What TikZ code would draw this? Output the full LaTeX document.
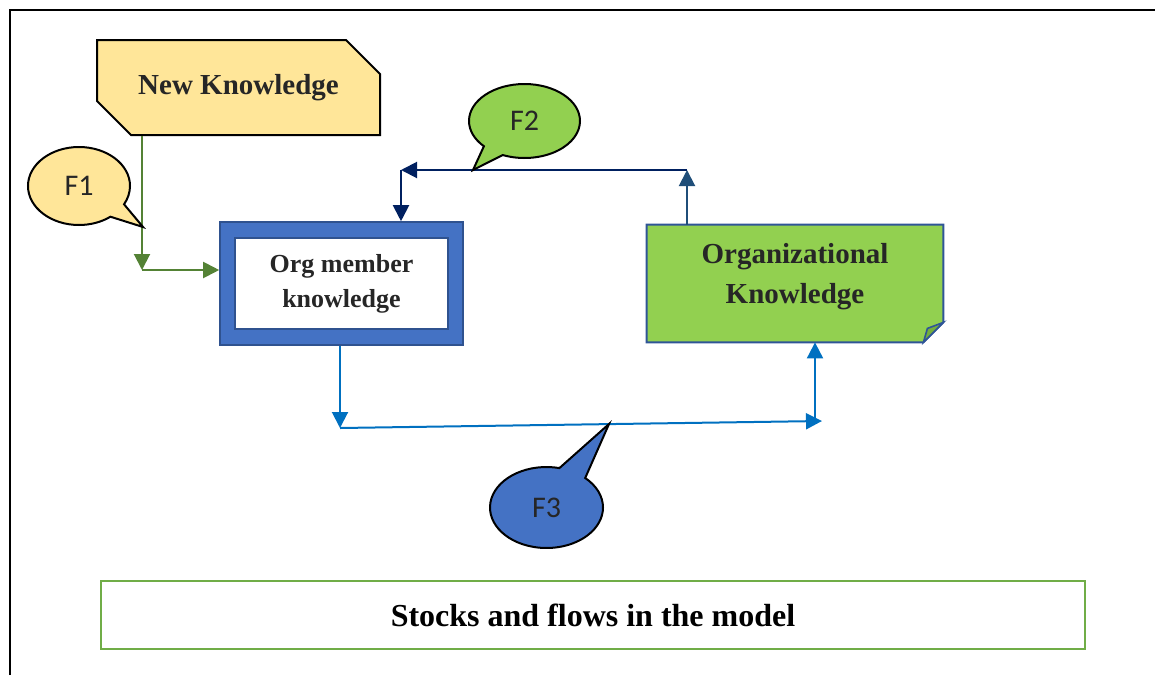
\documentclass[tikz,border=0pt]{standalone}
\usepackage{fontspec}
\setmainfont{Liberation Serif}
\newfontfamily\bubblefont{Carlito}
\usepackage{xcolor}
\usepackage{tikz}
\usetikzlibrary{shapes.misc, shapes.callouts, arrows.meta, positioning, backgrounds}
\definecolor{nkyellow}{HTML}{FFE699}
\definecolor{memblue}{HTML}{4472C4}
\definecolor{memedge}{HTML}{2F528F}
\definecolor{okgreen}{HTML}{92D050}
\definecolor{okfold}{HTML}{74AE3C}
\definecolor{okedge}{HTML}{2F5597}
\definecolor{fonegreen}{HTML}{548235}
\definecolor{ftwonavy}{HTML}{002060}
\definecolor{ftwoup}{HTML}{1F4E79}
\definecolor{fthreeblue}{HTML}{0070C0}
\definecolor{capgreen}{HTML}{70AD47}
\definecolor{labelgray}{HTML}{262626}
\tikzstyle{arrow}  = [line width=1pt, -{Triangle[length=8pt,width=8pt]}]
\tikzstyle{stock}  = [rectangle, text=labelgray, font=\bfseries\fontsize{14.5}{20}\selectfont]
\tikzstyle{bubble} = [ellipse callout, draw=black, line width=1pt, callout pointer arc=24,
                      text=labelgray, font=\bubblefont\fontsize{15}{17}\selectfont]
\tikzset{every node/.style={align=center}}

\begin{document}
\begin{tikzpicture}[x=0.5pt, y=-0.5pt]
    \useasboundingbox (0,0) rectangle (1155,675);
    \draw [line width=1pt] (10,675) -- (10,10) -- (1155,10);

    % flow corners
    \coordinate (f1c) at (142,270);
    \coordinate (f2r) at (687,170);
    \coordinate (f2l) at (401,170);
    \coordinate (f3l) at (340,428);
    \coordinate (f3r) at (822,421);
    \coordinate (f3u) at (815,421);
    \coordinate (f1tip) at (143,227);
    \coordinate (f2tip) at (473,170);
    \coordinate (f3tip) at (609,424);

    % stocks
    \node (nk) at (238.5,87.5) [stock, chamfered rectangle,
          chamfered rectangle corners={north east, south west},
          chamfered rectangle xsep=8.5pt, chamfered rectangle ysep=8.5pt,
          draw=black, line width=1pt, fill=nkyellow,
          minimum width=141.5pt, minimum height=47.5pt] {New Knowledge};
    \node (mem) at (341.5,283.5) [stock, draw=memedge, fill=memblue, line width=0.8pt,
          minimum width=121.5pt, minimum height=61.5pt] {};
    \node (memin) at (mem.center) [stock, draw=memedge, fill=white, line width=1pt,
          font=\bfseries\fontsize{13}{17.5}\selectfont,
          minimum width=106.5pt, minimum height=45.5pt] {Org member\\knowledge};
    \node (orgk) at (795,283.5) [stock, minimum width=148pt, minimum height=58.5pt] {};
    \node (orgklbl) at ([yshift=3.5pt]orgk.center) [stock] {Organizational\\Knowledge};
    \begin{scope}[on background layer]
        \draw [fill=okgreen, draw=okedge, line width=1pt]
              (orgk.north west) -- (orgk.north east) -- ([yshift=10pt]orgk.south east)
              -- ([xshift=-10pt]orgk.south east) -- (orgk.south west) -- cycle;
        \draw [fill=okfold, draw=okedge, line width=0.8pt]
              ([yshift=10pt]orgk.south east) -- ([xshift=-8pt,yshift=7pt]orgk.south east)
              -- ([xshift=-10pt]orgk.south east) -- cycle;
    \end{scope}

    % flows
    \draw [arrow, fonegreen] (nk.south -| f1c) -- (f1c);
    \draw [arrow, fonegreen] (f1c) -- (mem.west |- f1c);
    \draw [arrow, ftwoup] (orgk.north -| f2r) -- (f2r);
    \draw [arrow, ftwonavy] (f2r) -- (f2l);
    \draw [arrow, ftwonavy] (f2l) -- (mem.north -| f2l);
    \draw [arrow, fthreeblue] (mem.south -| f3l) -- (f3l);
    \draw [arrow, fthreeblue] (f3l) -- (f3r);
    \draw [arrow, fthreeblue] (f3u) -- (orgk.south -| f3u);

    % flow labels
    \node (fone) at (79,186) [bubble, fill=nkyellow, minimum width=51pt, minimum height=39pt,
          callout absolute pointer={(f1tip)}] {F1};
    \node (ftwo) at (524.5,121) [bubble, fill=okgreen, minimum width=55.5pt, minimum height=37pt,
          callout absolute pointer={(f2tip)}] {F2};
    \node (fthree) at (546.5,507.5) [bubble, fill=memblue, minimum width=56.5pt, minimum height=40.5pt,
          callout pointer arc=30, callout absolute pointer={(f3tip)}] {F3};

    % caption
    \node (cap) at (593,615) [draw=capgreen, line width=1pt, minimum width=492pt, minimum height=34pt,
          font=\bfseries\fontsize{16}{19}\selectfont] {Stocks and flows in the model};
\end{tikzpicture}
\end{document}
